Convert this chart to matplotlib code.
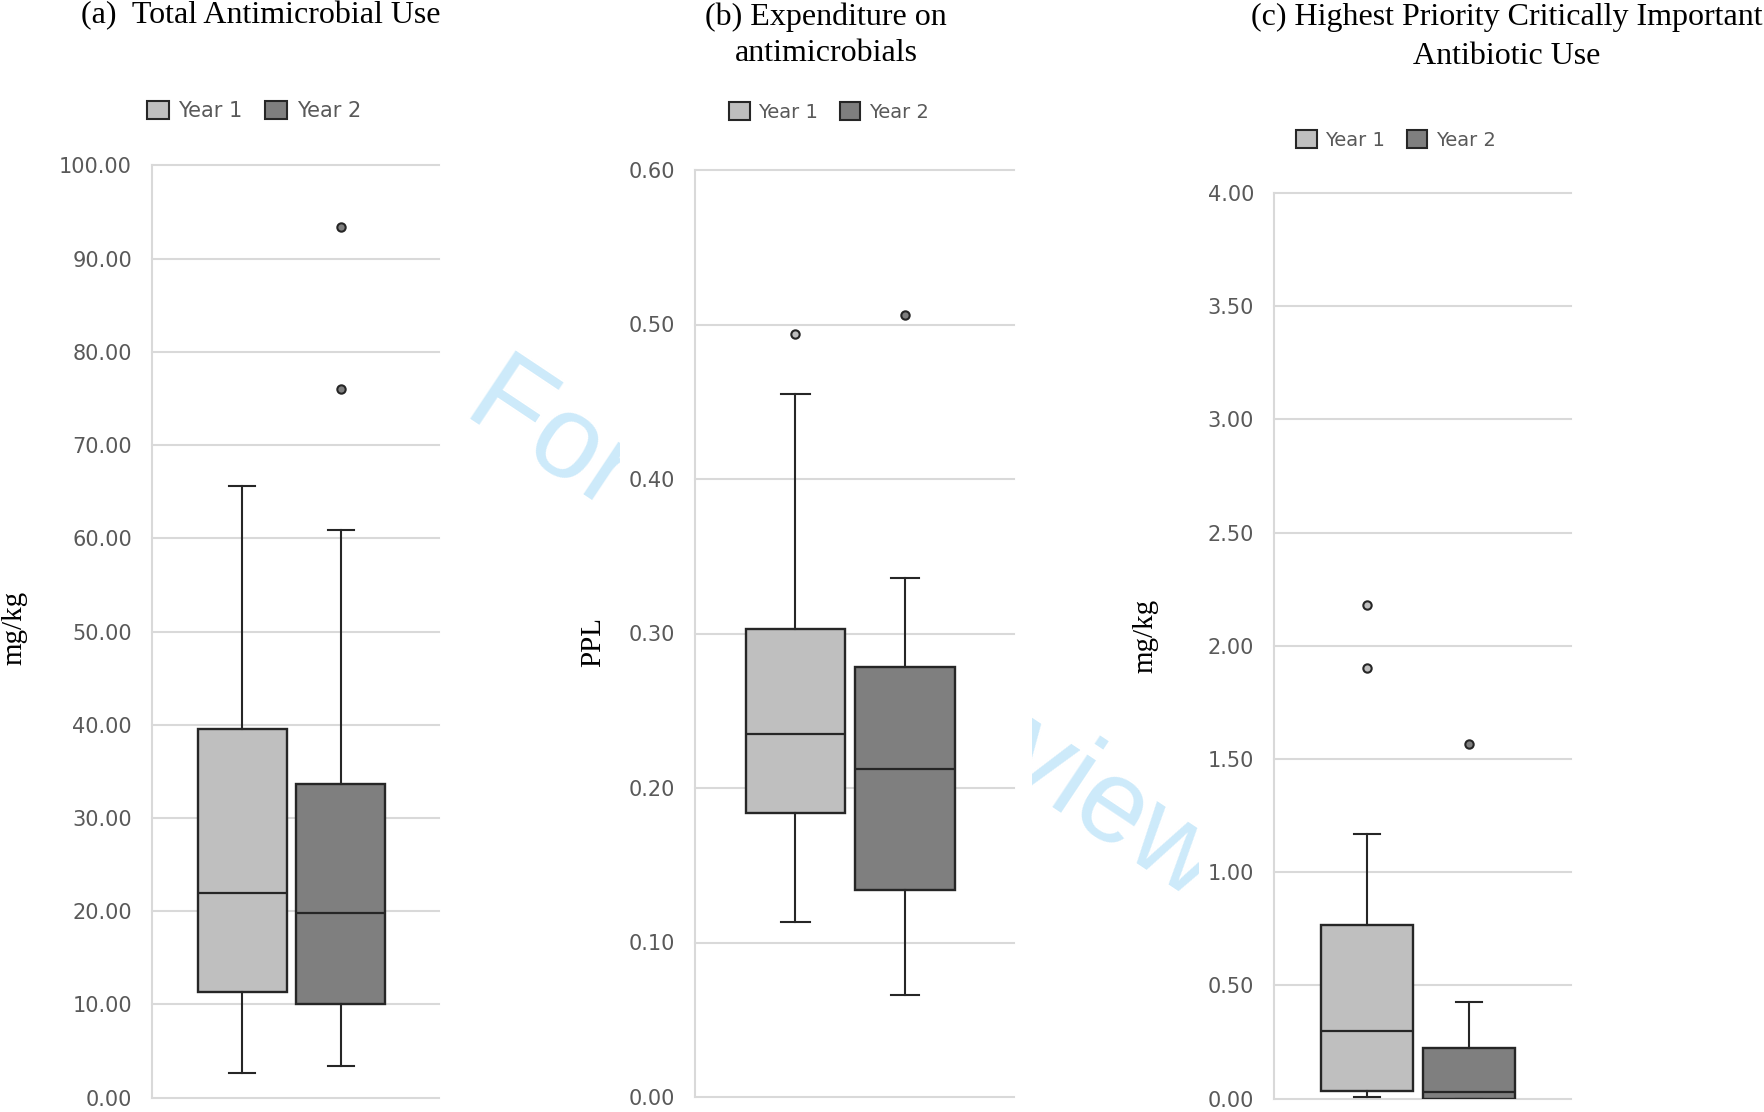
import matplotlib.pyplot as plt
from matplotlib.patches import Patch, Rectangle

# figure size in pixels (dpi 100)
W, H = 1764, 1112

series = ['Year 1', 'Year 2']
fills = ['#BFBFBF', '#7F7F7F']

# (a) total antimicrobial use, mg/kg
amu_q1 = [11.3, 10.0]
amu_med = [22.0, 19.8]
amu_q3 = [39.5, 33.7]
amu_lo = [2.6, 3.4]
amu_hi = [65.6, 60.9]
amu_out = [[], [76.0, 93.4]]

# (b) expenditure on antimicrobials, PPL
spend_q1 = [0.184, 0.134]
spend_med = [0.235, 0.212]
spend_q3 = [0.303, 0.278]
spend_lo = [0.113, 0.066]
spend_hi = [0.455, 0.336]
spend_out = [[0.494], [0.506]]

# (c) HP-CIA use, mg/kg
hpcia_q1 = [0.035, 0.0]
hpcia_med = [0.300, 0.031]
hpcia_q3 = [0.765, 0.225]
hpcia_lo = [0.005, 0.0]
hpcia_hi = [1.168, 0.426]
hpcia_out = [[1.904, 2.18], [1.566]]


def fx(x):
    return x / W


def fy(y):
    return 1 - y / H


def make_stats(q1, med, q3, lo, hi, out):
    stats = []
    for i in range(len(series)):
        stats.append(dict(label=series[i], q1=q1[i], med=med[i], q3=q3[i],
                          whislo=lo[i], whishi=hi[i], fliers=out[i]))
    return stats


panels = [
    dict(stats=make_stats(amu_q1, amu_med, amu_q3, amu_lo, amu_hi, amu_out),
         rect=(151.5, 439, 165.4, 1097.7), top=100, step=10,
         title='(a)  Total Antimicrobial Use', title_xy=(261, 16), lsp=1.0,
         ylabel='mg/kg', ylabel_xy=(14, 628), legend_xy=(254, 111), legend_fs=15),
    dict(stats=make_stats(spend_q1, spend_med, spend_q3, spend_lo, spend_hi, spend_out),
         rect=(694.7, 1014.3, 170, 1097), top=0.6, step=0.1,
         title='(b) Expenditure on\nantimicrobials', title_xy=(826, 35), lsp=1.32,
         ylabel='PPL', ylabel_xy=(593, 642), legend_xy=(829, 112), legend_fs=14),
    dict(stats=make_stats(hpcia_q1, hpcia_med, hpcia_q3, hpcia_lo, hpcia_hi, hpcia_out),
         rect=(1273.6, 1570.5, 193, 1098.6), top=4.0, step=0.5,
         title='(c) Highest Priority Critically Important\nAntibiotic Use', title_xy=(1507, 37),
         lsp=1.43, ylabel='mg/kg', ylabel_xy=(1145, 636), legend_xy=(1396, 140), legend_fs=14),
]

fig = plt.figure(figsize=(W / 100, H / 100), dpi=100)

# "For Peer Review" watermark sitting behind the chart images
fig.text(fx(827), fy(657), 'For Peer Review', family='Liberation Sans', fontsize=85,
         color='#cdeafa', rotation=-33.7, rotation_mode='anchor',
         ha='center', va='baseline', zorder=-3)
fig.patches.append(Rectangle((fx(620), 0), fx(1032) - fx(620), 1, transform=fig.transFigure,
                             facecolor='white', edgecolor='none', zorder=-2))
fig.patches.append(Rectangle((fx(1199), 0), 1 - fx(1199), 1, transform=fig.transFigure,
                             facecolor='white', edgecolor='none', zorder=-2))

edge = '#262626'
for p in panels:
    l, r, t, b = p['rect']
    ax = fig.add_axes([fx(l), fy(b), fx(r) - fx(l), (b - t) / H])
    ax.set_facecolor('none')
    res = ax.bxp(p['stats'], positions=[0.315, 0.658], widths=0.31, patch_artist=True,
                 showfliers=True, capwidths=0.09,
                 boxprops=dict(edgecolor=edge, linewidth=1.7),
                 medianprops=dict(color=edge, linewidth=1.6),
                 whiskerprops=dict(color=edge, linewidth=1.5),
                 capprops=dict(color=edge, linewidth=1.5),
                 flierprops=dict(marker='o', markersize=6, markeredgecolor=edge,
                                 markeredgewidth=1.5, linestyle='none'))
    for box, c in zip(res['boxes'], fills):
        box.set_facecolor(c)
    for fl, c in zip(res['fliers'], fills):
        fl.set_markerfacecolor(c)

    ax.set_xlim(0, 1)
    ax.set_ylim(0, p['top'])
    n = int(round(p['top'] / p['step']))
    ax.set_yticks([i * p['step'] for i in range(n + 1)])
    ax.yaxis.set_major_formatter(plt.FormatStrFormatter('%.2f'))
    ax.set_xticks([])
    ax.tick_params(axis='y', length=0, pad=14, labelsize=15, labelcolor='#595959')
    ax.set_axisbelow(True)
    ax.grid(axis='y', color='#D9D9D9', linewidth=1.5)
    for gl in ax.get_ygridlines():
        gl.set_clip_on(False)
    for s in ['top', 'right', 'bottom']:
        ax.spines[s].set_visible(False)
    ax.spines['left'].set_color('#D9D9D9')
    ax.spines['left'].set_linewidth(1.5)

    handles = [Patch(facecolor=c, edgecolor=edge, linewidth=1.5) for c in fills]
    ax.legend(handles, series, loc='center', ncol=2, frameon=False,
              bbox_to_anchor=(fx(p['legend_xy'][0]), fy(p['legend_xy'][1])),
              bbox_transform=fig.transFigure, fontsize=p['legend_fs'], labelcolor='#595959',
              handlelength=1.05, handleheight=1.0, handletextpad=0.45,
              columnspacing=1.1, borderpad=0, borderaxespad=0)

    fig.text(fx(p['title_xy'][0]), fy(p['title_xy'][1]), p['title'], family='Liberation Serif',
             fontsize=23, ha='center', va='center', linespacing=p['lsp'], multialignment='center')
    fig.text(fx(p['ylabel_xy'][0]), fy(p['ylabel_xy'][1]), p['ylabel'], family='Liberation Serif',
             fontsize=21, rotation=90, ha='center', va='center')

fig.savefig('out.png', dpi=100)
